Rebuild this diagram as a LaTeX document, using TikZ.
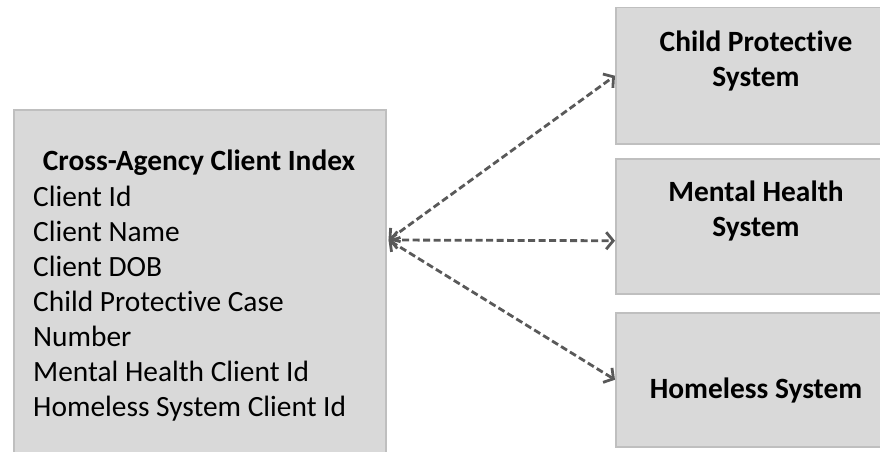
\documentclass[tikz,border=0pt]{standalone}
\usepackage{fontspec}
\setmainfont{Carlito}[Ligatures={NoCommon}]
\usetikzlibrary{arrows.meta}
\definecolor{boxfill}{HTML}{D9D9D9}
\definecolor{boxline}{HTML}{BFBFBF}
\definecolor{arrowc}{HTML}{595959}
\begin{document}
\begin{tikzpicture}[x=1pt,y=-1pt,
  sysbox/.style={draw=boxline, fill=boxfill, line width=1.5pt, minimum width=282pt, inner sep=0pt, anchor=north west},
  txt/.style={font=\fontsize{29.4}{35}\selectfont, inner sep=0pt},
  btxt/.style={font=\fontsize{29.4}{35}\selectfont\bfseries, inner sep=0pt, align=center},
  link/.style={draw=arrowc, line width=2.8pt, dash pattern=on 7pt off 3.5pt,
    {Straight Barb[length=7pt,width=17pt]}-{Straight Barb[length=7pt,width=17pt]}}]
\useasboundingbox (0,0) rectangle (880,452);
\node[sysbox, minimum width=372pt, minimum height=360pt] (index) at (13,109) {};
\node[sysbox, minimum height=136pt] (cps) at (615,7) {};
\node[sysbox, minimum height=135pt] (mhs) at (615,158) {};
\node[sysbox, minimum height=134pt] (hls) at (615,312) {};
\node[btxt] (t0) at (199,163) {Cross-Agency Client Index};
\node[txt, align=left, anchor=west] (t1) at (33,304) {Client Id\\Client Name\\Client DOB\\Child Protective Case\\Number\\Mental Health Client Id\\Homeless System Client Id};
\node[btxt] (t2) at (756,60.5) {Child Protective\\System};
\node[btxt] (t3) at (756,210.5) {Mental Health\\System};
\node[btxt] (t4) at (756,390) {Homeless System};
\coordinate (hub) at ([xshift=2pt,yshift=-131pt]index.north east);
\draw[link] (hub) -- (cps.west);
\draw[link] (hub) -- ([yshift=-14.5pt]mhs.west);
\draw[link] (hub) -- (hls.west);
\end{tikzpicture}
\end{document}
